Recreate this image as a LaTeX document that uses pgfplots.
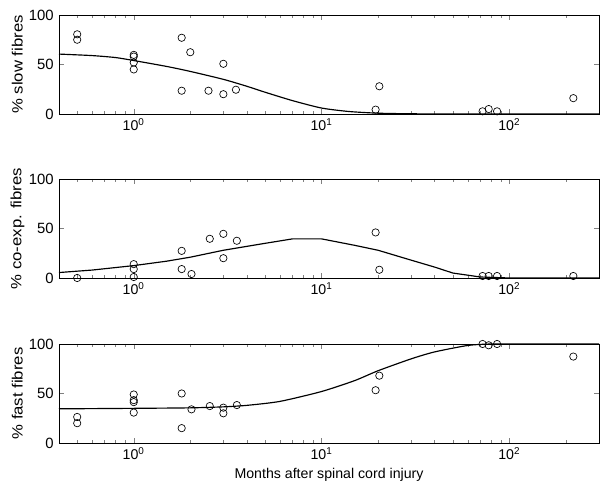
\documentclass[border=0pt]{standalone}
\usepackage{fontspec}
\setmainfont{Liberation Sans}
\usepackage{graphicx}
\usepackage{pgfplots}
\pgfplotsset{compat=1.18}
\pgfplotsset{
  every axis/.append style={
    scale only axis, width=324pt, height=59.4pt,
    xmin=0.4, xmax=300, ymin=0, ymax=100,
    xtick={1,10,100},
    xticklabels={10\textsuperscript{0},10\textsuperscript{1},10\textsuperscript{2}},
    minor xtick={0.4,0.5,0.6,0.7,0.8,0.9,2,3,4,5,6,7,8,9,20,30,40,50,60,70,80,90,200,300},
    ytick={0,50,100}, yticklabels={0,50,100},
    yticklabel style={scale=1.05},
    major tick length=3pt, minor tick length=1.8pt,
    tick align=inside,
    axis line style={line width=0.5pt, black},
    anchor=south west,
    ylabel style={at={(axis description cs:-0.077,0.5)}, anchor=center},
  },
}
\begin{document}
\fontsize{8.5}{10}\selectfont
\begin{tikzpicture}
\useasboundingbox (0,0) rectangle (360pt,293.4pt);
% Panel 1: slow
\begin{semilogxaxis}[at={(35.4pt,225pt)}, ylabel={\scalebox{1.18}[1.05]{\% slow fibres}}]
\addplot[no marks, black, line width=0.7pt, smooth, tension=0.4] coordinates {(0.4,60.5) (0.6,59) (0.8,57) (1,54) (1.5,48) (2,43) (3,35) (4,28) (5,22) (7,13.5) (10,6) (14,2.5) (20,0.8) (30,0.2) (50,0) (100,0) (300,0)};
\addplot[only marks, mark=o, mark size=2.2pt, black] coordinates {(0.5,80.5) (0.5,75) (1,59.7) (1,58) (1,52) (1,45) (1.8,77) (2,62.4) (1.8,23.5) (2.5,23.5) (3,50.7) (3,20) (3.5,24.5) (19.4,4.4) (20.3,28) (72,2.7) (77.6,5) (86,2.7) (219,16)};
\end{semilogxaxis}
% Panel 2: co-exp
\begin{semilogxaxis}[at={(35.4pt,126.6pt)}, ylabel={\scalebox{1.18}[1.05]{\% co-exp. fibres}}]
\addplot[no marks, black, line width=0.7pt] coordinates {(0.4,5.5) (0.6,8) (1,12.5) (1.5,17) (2,21) (3,28) (5,35) (7,39.5) (10,39.5) (15,33) (20,28) (30,18) (40,11) (50,5) (70,1) (100,0) (300,0)};
\addplot[only marks, mark=o, mark size=2.2pt, black] coordinates {(0.5,0) (1,14) (1,9) (1,1) (1.8,27.4) (1.8,9) (2.03,4) (2.54,39.6) (3,44.6) (3,20) (3.54,37.6) (19.4,46) (20.3,8.3) (72,2) (77.6,2) (86,2) (219,2)};
\end{semilogxaxis}
% Panel 3: fast
\begin{semilogxaxis}[at={(35.4pt,27.6pt)}, ylabel={\scalebox{1.18}[1.05]{\% fast fibres}},
  xlabel={Months after spinal cord injury},
  xlabel style={at={(axis description cs:0.5,0)}, anchor=center, yshift=-19.2pt}]
\addplot[no marks, black, line width=0.7pt, smooth, tension=0.4] coordinates {(0.4,34.5) (1,35) (2,35.5) (3,36.5) (4,38) (6,42) (10,52) (15,63) (20,73) (30,85) (40,92) (60,98.5) (80,100) (120,100) (300,100)};
\addplot[only marks, mark=o, mark size=2.2pt, black] coordinates {(0.5,26.3) (0.5,20) (1,49) (1,43.3) (1,41.3) (1,30.7) (1.8,50) (1.8,15) (2.03,34) (2.54,37.3) (3,35.7) (3,30) (3.54,38.3) (19.4,53.3) (20.3,68) (72,100) (77.6,98.7) (86,100) (219,87.3)};
\end{semilogxaxis}
\end{tikzpicture}
\end{document}
